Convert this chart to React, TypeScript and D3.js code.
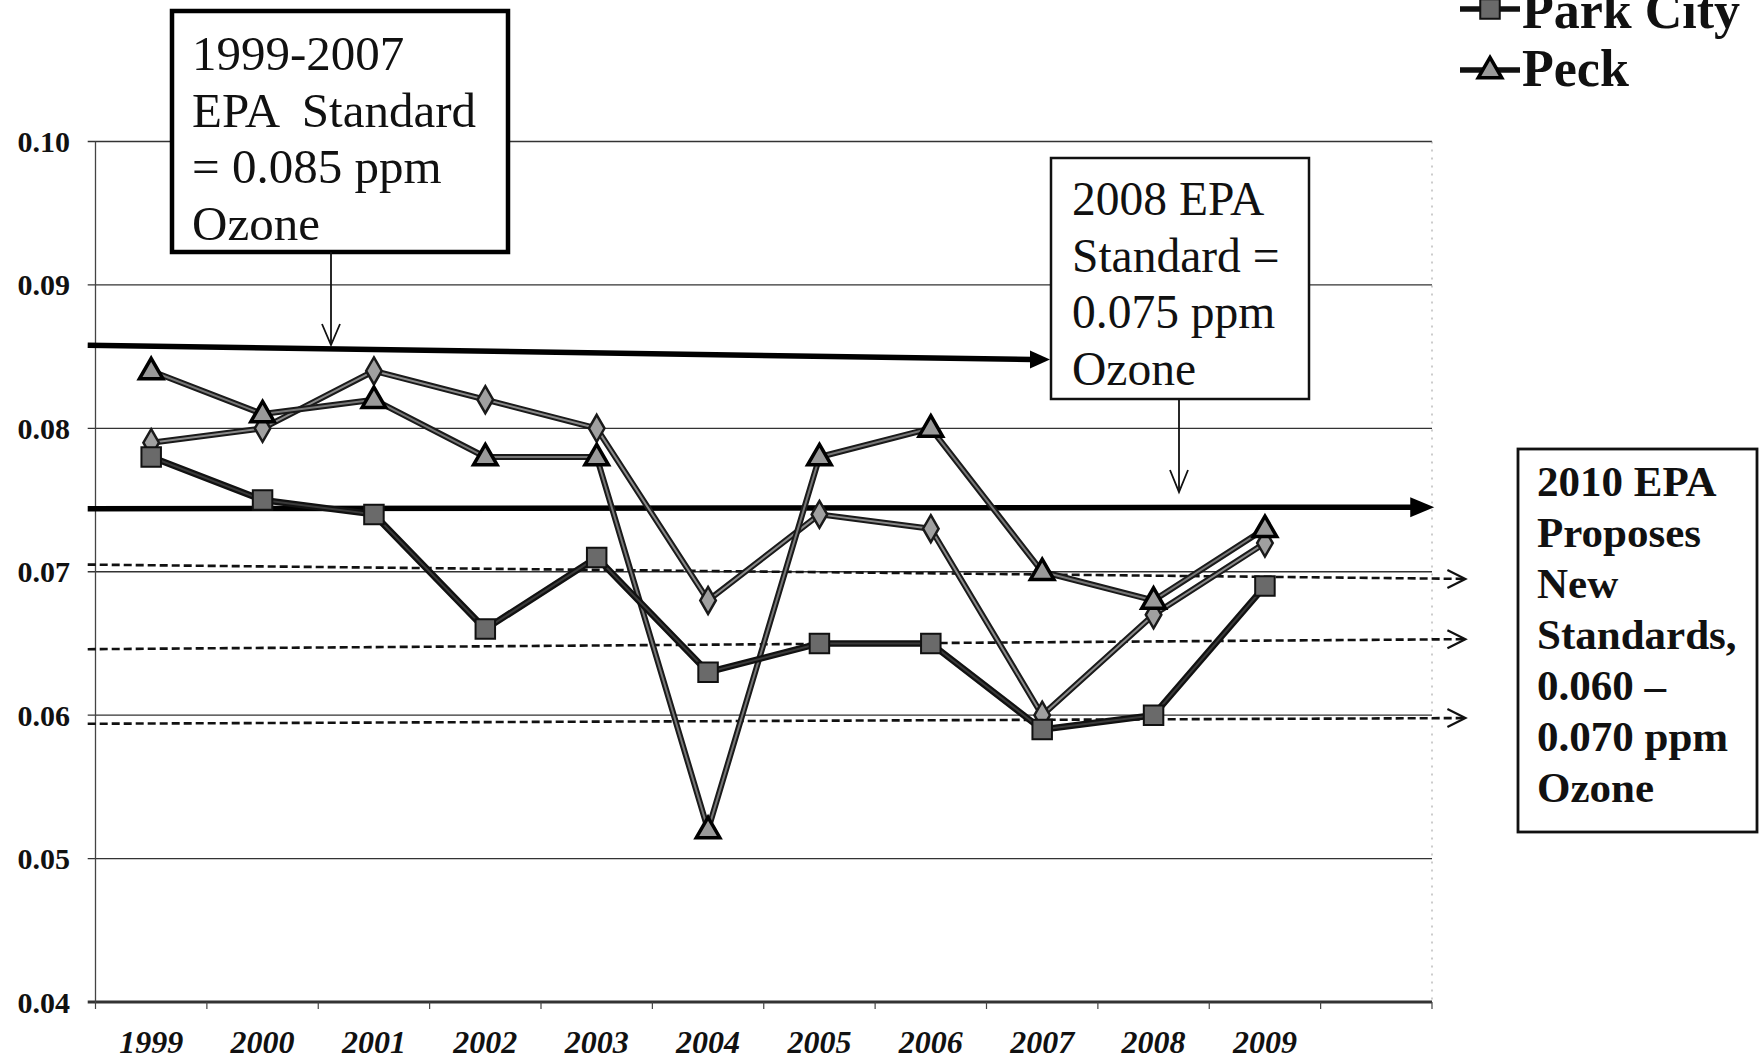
import React from 'react';
import * as d3 from 'd3';

const years = ['1999', '2000', '2001', '2002', '2003', '2004', '2005', '2006', '2007', '2008', '2009', ''];
const yTicks = [0.04, 0.05, 0.06, 0.07, 0.08, 0.09, 0.10];

const parkCity = [0.078, 0.075, 0.074, 0.066, 0.071, 0.063, 0.065, 0.065, 0.059, 0.060, 0.069];
const peck = [0.084, 0.081, 0.082, 0.078, 0.078, 0.052, 0.078, 0.080, 0.070, 0.068, 0.073];
const site3 = [0.079, 0.080, 0.084, 0.082, 0.080, 0.068, 0.074, 0.073, 0.060, 0.067, 0.072];

// standard lines: [startSlot, startValue, endSlot, endValue]
const std1999 = [-0.07, 0.0858, 8.57, 0.0848];
const std2008 = [-0.07, 0.0744, 12.02, 0.0745];
const proposed = [
  [-0.07, 0.0705, 12.3, 0.0695],
  [-0.07, 0.0646, 12.3, 0.0653],
  [-0.07, 0.0594, 12.3, 0.0598],
];

const box1Lines = ['1999-2007', 'EPA  Standard', '= 0.085 ppm', 'Ozone'];
const box2Lines = ['2008 EPA', 'Standard =', '0.075 ppm', 'Ozone'];
const box3Lines = ['2010 EPA', 'Proposes', 'New', 'Standards,', '0.060 \u2013', '0.070 ppm', 'Ozone'];

const W = 1761;
const H = 1059;
const serif = '"Liberation Serif", "Times New Roman", serif';

export default function App() {
  const x = d3.scaleBand().domain(years).range([95.5, 1432]).paddingInner(0).paddingOuter(0);
  const slot = d3.scaleLinear().domain([0, 12]).range([95.5, 1432]);
  const y = d3.scaleLinear().domain([0.04, 0.10]).range([1002, 141.5]);
  const cx = (i: number) => (x(years[i]) as number) + x.bandwidth() / 2;
  const line = d3.line<number>().x((_, i) => cx(i)).y((d) => y(d));

  const tri = d3.symbol().type(d3.symbolTriangle).size(240)();
  const sq = d3.symbol().type(d3.symbolSquare).size(380)();
  const dia = d3.symbol().type(d3.symbolDiamond).size(210)();

  const gridX0 = slot(-0.07);
  const gridX1 = slot(12);

  return (
    <div style={{ position: 'absolute', left: 0, top: 0 }}>
      <svg width={W} height={H} style={{ display: 'block', background: '#fff' }}>
        {/* gridlines */}
        {yTicks.map((t) => (
          <line key={t} x1={gridX0} x2={gridX1} y1={y(t)} y2={y(t)} stroke="#333" strokeWidth={t === 0.04 ? 2.8 : 1.3} />
        ))}
        {/* y axis */}
        <line x1={slot(0)} x2={slot(0)} y1={y(0.10)} y2={y(0.04)} stroke="#444" strokeWidth={1.3} />
        <line x1={slot(12)} x2={slot(12)} y1={y(0.10)} y2={y(0.04)} stroke="#999" strokeWidth={1} strokeDasharray="2,6" />
        {yTicks.map((t) => (
          <text key={'l' + t} x={70} y={y(t)} dy="0.35em" textAnchor="end" fontFamily={serif} fontWeight="bold" fontSize={30} fill="#111">
            {t.toFixed(2)}
          </text>
        ))}
        {/* x ticks */}
        {d3.range(13).map((i) => (
          <line key={'t' + i} x1={slot(i)} x2={slot(i)} y1={y(0.04)} y2={y(0.04) + 7} stroke="#444" strokeWidth={1.2} />
        ))}
        {years.map((yr, i) => (
          <text key={'x' + i} x={cx(i)} y={1053} textAnchor="middle" fontFamily={serif} fontWeight="bold" fontStyle="italic" fontSize={32} fill="#111">
            {yr}
          </text>
        ))}

        {/* proposed dashed lines */}
        {proposed.map((p, k) => {
          const x1 = slot(p[0]);
          const x2 = slot(p[2]);
          const y1 = y(p[1]);
          const y2 = y(p[3]);
          return (
            <g key={'p' + k}>
              <line x1={x1} x2={x2} y1={y1} y2={y2} stroke="#111" strokeWidth={2.6} strokeDasharray="8,4" />
              <polyline points={`${x2 - 18},${y2 - 9} ${x2},${y2} ${x2 - 18},${y2 + 9}`} fill="none" stroke="#111" strokeWidth={2.2} />
            </g>
          );
        })}

        {/* standard lines */}
        {[std1999, std2008].map((s, k) => {
          const x1 = slot(s[0]);
          const x2 = slot(s[2]);
          const y1 = y(s[1]);
          const y2 = y(s[3]);
          const al = k === 0 ? 20 : 24;
          const aw = k === 0 ? 9 : 10;
          return (
            <g key={'s' + k}>
              <line x1={x1} x2={x2 - al + 2} y1={y1} y2={y2} stroke="#000" strokeWidth={5.5} />
              <polygon points={`${x2 - al},${y2 - aw} ${x2},${y2} ${x2 - al},${y2 + aw}`} fill="#000" />
            </g>
          );
        })}

        {/* series lines */}
        <path d={line(site3) || ''} fill="none" stroke="#1a1a1a" strokeWidth={6} strokeLinejoin="round" />
        <path d={line(site3) || ''} fill="none" stroke="#8a8a8a" strokeWidth={2} strokeLinejoin="round" />
        <path d={line(peck) || ''} fill="none" stroke="#1a1a1a" strokeWidth={6} strokeLinejoin="round" />
        <path d={line(peck) || ''} fill="none" stroke="#777" strokeWidth={2} strokeLinejoin="round" />
        <path d={line(parkCity) || ''} fill="none" stroke="#111" strokeWidth={6.5} strokeLinejoin="round" />
        <path d={line(parkCity) || ''} fill="none" stroke="#3a3a3a" strokeWidth={2} strokeLinejoin="round" />

        {site3.map((v, i) => (
          <path key={'d' + i} d={dia || ''} transform={`translate(${cx(i)},${y(v)})`} fill="#a0a0a0" stroke="#1a1a1a" strokeWidth={2.5} />
        ))}
        {parkCity.map((v, i) => (
          <path key={'q' + i} d={sq || ''} transform={`translate(${cx(i)},${y(v)})`} fill="#6a6a6a" stroke="#111" strokeWidth={2} />
        ))}
        {peck.map((v, i) => (
          <path key={'r' + i} d={tri || ''} transform={`translate(${cx(i)},${y(v) + 1})`} fill="#999" stroke="#000" strokeWidth={3.5} />
        ))}

        {/* box 1 */}
        <rect x={172} y={11} width={336} height={241} fill="#fff" stroke="#000" strokeWidth={4.5} />
        {box1Lines.map((t, i) => (
          <text key={'b1' + i} x={192} y={70 + i * 56.5} fontFamily={serif} fontSize={49} fill="#111" style={{ whiteSpace: 'pre' }}>
            {t}
          </text>
        ))}
        <line x1={331} x2={331} y1={252} y2={345} stroke="#111" strokeWidth={1.8} />
        <polyline points="322,324 331,345 340,324" fill="none" stroke="#111" strokeWidth={1.8} />

        {/* box 2 */}
        <rect x={1051} y={158} width={258} height={241} fill="#fff" stroke="#111" strokeWidth={2.5} />
        {box2Lines.map((t, i) => (
          <text key={'b2' + i} x={1072} y={215 + i * 56.5} fontFamily={serif} fontSize={47.5} fill="#111">
            {t}
          </text>
        ))}
        <line x1={1179} x2={1179} y1={399} y2={492} stroke="#111" strokeWidth={1.8} />
        <polyline points="1170,470 1179,492 1188,470" fill="none" stroke="#111" strokeWidth={1.8} />

        {/* box 3 */}
        <rect x={1518} y={449} width={239} height={383} fill="#fff" stroke="#111" strokeWidth={2.8} />
        {box3Lines.map((t, i) => (
          <text key={'b3' + i} x={1537} y={496 + i * 51} fontFamily={serif} fontWeight="bold" fontSize={43} fill="#111">
            {t}
          </text>
        ))}

        {/* legend */}
        <line x1={1460} x2={1520} y1={9} y2={9} stroke="#111" strokeWidth={5.5} />
        <path d={sq || ''} transform="translate(1490,9)" fill="#6a6a6a" stroke="#111" strokeWidth={2} />
        <text x={1522} y={28} fontFamily={serif} fontWeight="bold" fontSize={52} fill="#111">Park City</text>
        <line x1={1460} x2={1520} y1={70} y2={70} stroke="#111" strokeWidth={5.5} />
        <path d={tri || ''} transform="translate(1490,71)" fill="#999" stroke="#000" strokeWidth={3.5} />
        <text x={1522} y={86} fontFamily={serif} fontWeight="bold" fontSize={52} fill="#111">Peck</text>
      </svg>
    </div>
  );
}
